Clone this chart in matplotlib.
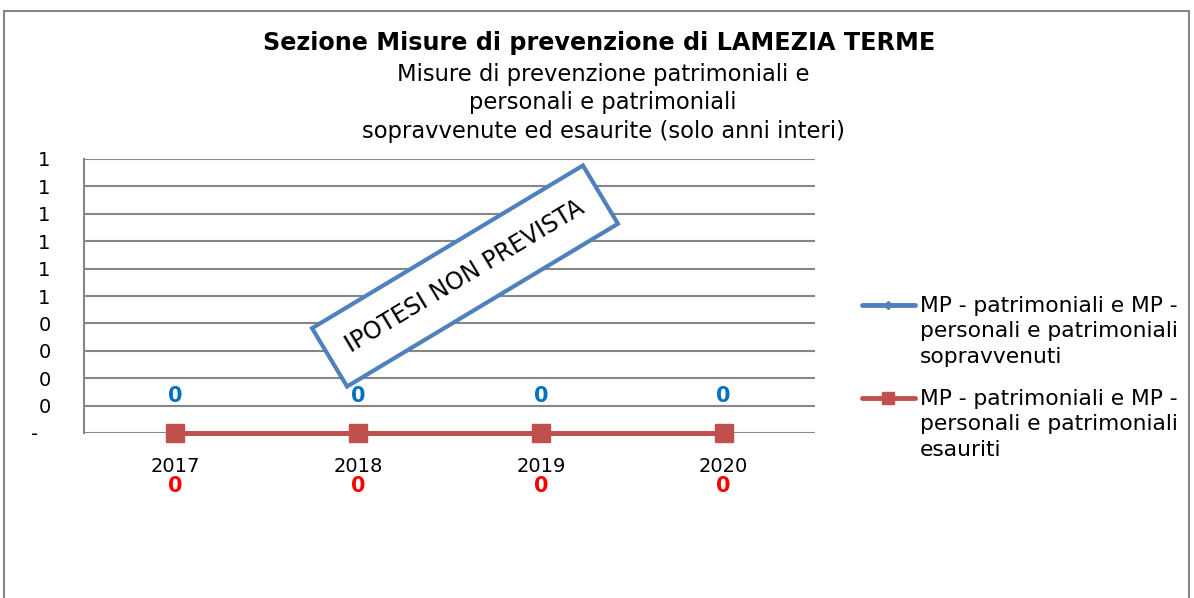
import numpy as np
import matplotlib
matplotlib.use("Agg")
import matplotlib.pyplot as plt
from matplotlib.patches import Rectangle
from matplotlib.lines import Line2D
from matplotlib.transforms import IdentityTransform

# --- data ---
anni = ["2017", "2018", "2019", "2020"]
sopravvenuti = [0, 0, 0, 0]
esauriti = [0, 0, 0, 0]
y_ticks = [0, 0.1, 0.2, 0.3, 0.4, 0.5, 0.6, 0.7, 0.8, 0.9, 1.0]

titolo = "Sezione Misure di prevenzione di LAMEZIA TERME"
sottotitolo = ("Misure di prevenzione patrimoniali e\n"
               "personali e patrimoniali\n"
               "sopravvenute ed esaurite (solo anni interi)")
lbl_sopr = "MP - patrimoniali e MP -\npersonali e patrimoniali\nsopravvenuti"
lbl_esau = "MP - patrimoniali e MP -\npersonali e patrimoniali\nesauriti"

BLU = "#4F81BD"
ROSSO = "#C0504D"
GRIGIO = "#868686"

plt.rcParams['font.family'] = ['DejaVu Sans']

fig = plt.figure(figsize=(11.94, 5.98), dpi=100)

# outer chart border
fig.patches.append(Rectangle((4 / 1194, -0.05), 1185 / 1194, 1.05 - 11 / 598,
                             transform=fig.transFigure, fill=False,
                             edgecolor=GRIGIO, lw=1.5))

ax = fig.add_axes([84 / 1194, 165 / 598, 731 / 1194, 274 / 598])

x = np.arange(len(anni))
serie = [
    (sopravvenuti, BLU, "D", 6, lbl_sopr),
    (esauriti, ROSSO, "s", 13, lbl_esau),
]
for i, (vals, col, mk, ms, lbl) in enumerate(serie):
    ax.plot(x, vals, color=col, lw=3.5, marker=mk, ms=ms, zorder=3 + i,
            clip_on=False)

# data labels
for xi, v in zip(x, sopravvenuti):
    ax.annotate(f"{v}", (xi, v), xytext=(0, 27), textcoords="offset points",
                ha="center", va="center", color="#0070C0",
                fontsize=15, fontweight="bold")
for xi, v in zip(x, esauriti):
    ax.annotate(f"{v}", (xi, v), xytext=(0, -38), textcoords="offset points",
                ha="center", va="center", color="#FF0000",
                fontsize=15, fontweight="bold", zorder=5)

ax.set_xlim(-0.5, len(anni) - 0.5)
ax.set_ylim(0, 1)
ax.set_xticks(x)
ax.set_xticklabels(anni, fontsize=14)
ax.set_yticks(y_ticks)
ax.set_yticklabels(["-  " if t == 0 else str(int(t + 0.5)) for t in y_ticks],
                   fontsize=14)
ax.tick_params(axis="x", length=0, pad=17)
ax.tick_params(axis="y", length=0, pad=24)
ax.grid(axis="y", color=GRIGIO, lw=1.5)
ax.set_axisbelow(True)
for s in ["top", "right", "bottom"]:
    ax.spines[s].set_visible(False)
ax.spines["left"].set_color(GRIGIO)
ax.spines["left"].set_linewidth(1.5)

# titles
fig.text(599 / 1194, 1 - 43 / 598, titolo, ha="center", va="center",
         fontsize=17.2, fontweight="bold")
fig.text(603 / 1194, 1 - 103 / 598, sottotitolo, ha="center", va="center",
         fontsize=16.3, linespacing=1.3)

# stamp "IPOTESI NON PREVISTA"
cx, cy = 465, 598 - 276
fig.patches.append(Rectangle((cx - 158, cy - 34), 316, 68, angle=31,
                             rotation_point="center",
                             transform=IdentityTransform(), fc="white",
                             ec=BLU, lw=3, zorder=6))
fig.text(cx / 1194, cy / 598, "IPOTESI NON PREVISTA", rotation=31,
         rotation_mode="anchor", ha="center", va="center", fontsize=17,
         zorder=7)

# legend (handle aligned with first text line, as in the original)
leg_y = [305, 398]
for (vals, col, mk, ms, lbl), ly in zip(serie, leg_y):
    yf = 1 - ly / 598
    fig.add_artist(Line2D([862 / 1194, 915 / 1194], [yf, yf], color=col,
                          lw=3.5, solid_capstyle="round"))
    fig.add_artist(Line2D([888 / 1194], [yf], color=col, marker=mk,
                          ms=ms * 0.65, lw=0))
    fig.text(920 / 1194, 1 - (ly - 9) / 598, lbl, ha="left", va="top",
             fontsize=15.7, linespacing=1.33, transform=fig.transFigure)

fig.savefig("out.png", dpi=100)
